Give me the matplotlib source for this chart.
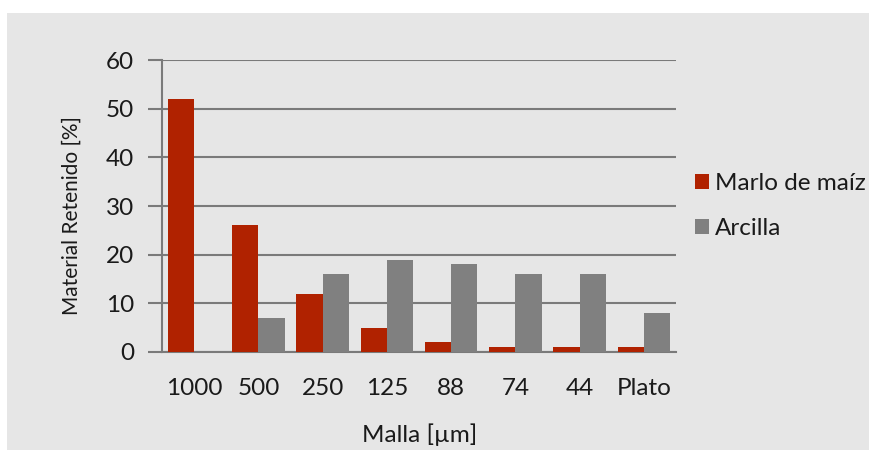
import matplotlib
matplotlib.use("Agg")
import matplotlib.pyplot as plt
from matplotlib.patches import Rectangle
import numpy as np

plt.rcParams['font.family'] = ['Lato', 'DejaVu Sans']

mallas = ["1000", "500", "250", "125", "88", "74", "44", "Plato"]
marlo = [52, 26, 12, 5, 2, 1, 1, 1]
arcilla = [0, 7, 16, 19, 18, 16, 16, 8]

bg = "#e6e6e6"
red = "#b02200"
grey = "#808080"
txt = "#1a1a1a"

fig = plt.figure(figsize=(8.69, 4.5), dpi=100, facecolor="white")
fig.patches.append(Rectangle((7 / 869, 0), 1, 1 - 13 / 450, transform=fig.transFigure,
                             facecolor=bg, edgecolor="none", zorder=-10))

ax = fig.add_axes([162 / 869, 1 - 352 / 450, 514 / 869, 292 / 450])
ax.set_facecolor(bg)

x = np.arange(len(mallas))
w = 0.41
ax.bar(x - w / 2, marlo, w, color=red, label="Marlo de maíz", zorder=3)
ax.bar(x + w / 2, arcilla, w, color=grey, label="Arcilla", zorder=3)

ax.set_xlim(-0.5, len(mallas) - 0.5)
ax.set_ylim(0, 60)
ax.set_yticks(range(0, 61, 10))
ax.yaxis.grid(True, color="#7a7a7a", linewidth=1.5, zorder=1)
ax.set_axisbelow(True)

for s in ["top", "right"]:
    ax.spines[s].set_visible(False)
ax.spines["left"].set_color("#7a7a7a")
ax.spines["left"].set_linewidth(1.5)
ax.spines["bottom"].set_color("#7a7a7a")
ax.spines["bottom"].set_linewidth(1.5)

ax.set_xticks(x)
ax.set_xticklabels(mallas)
ax.tick_params(axis="x", length=0, pad=19, labelsize=17.5, labelcolor=txt)
ax.tick_params(axis="y", length=10, width=1.5, color="#7a7a7a", pad=10, labelsize=17.5, labelcolor=txt)

fig.text(420 / 869, 1 - 435 / 450, "Malla [µm]", fontsize=17.5, color=txt, ha="center", va="center")
fig.text(72 / 869, 1 - 216 / 450, "Material Retenido [%]", fontsize=15, color=txt,
         ha="center", va="center", rotation=90)

ax.legend(loc="center left", bbox_to_anchor=(1.014, 0.5), frameon=False, fontsize=17.5,
          handlelength=0.55, handleheight=0.55, handletextpad=0.25, labelspacing=1.0,
          borderaxespad=0.3, borderpad=0.2, labelcolor=txt)

fig.savefig("out.png", dpi=100, facecolor="white")
